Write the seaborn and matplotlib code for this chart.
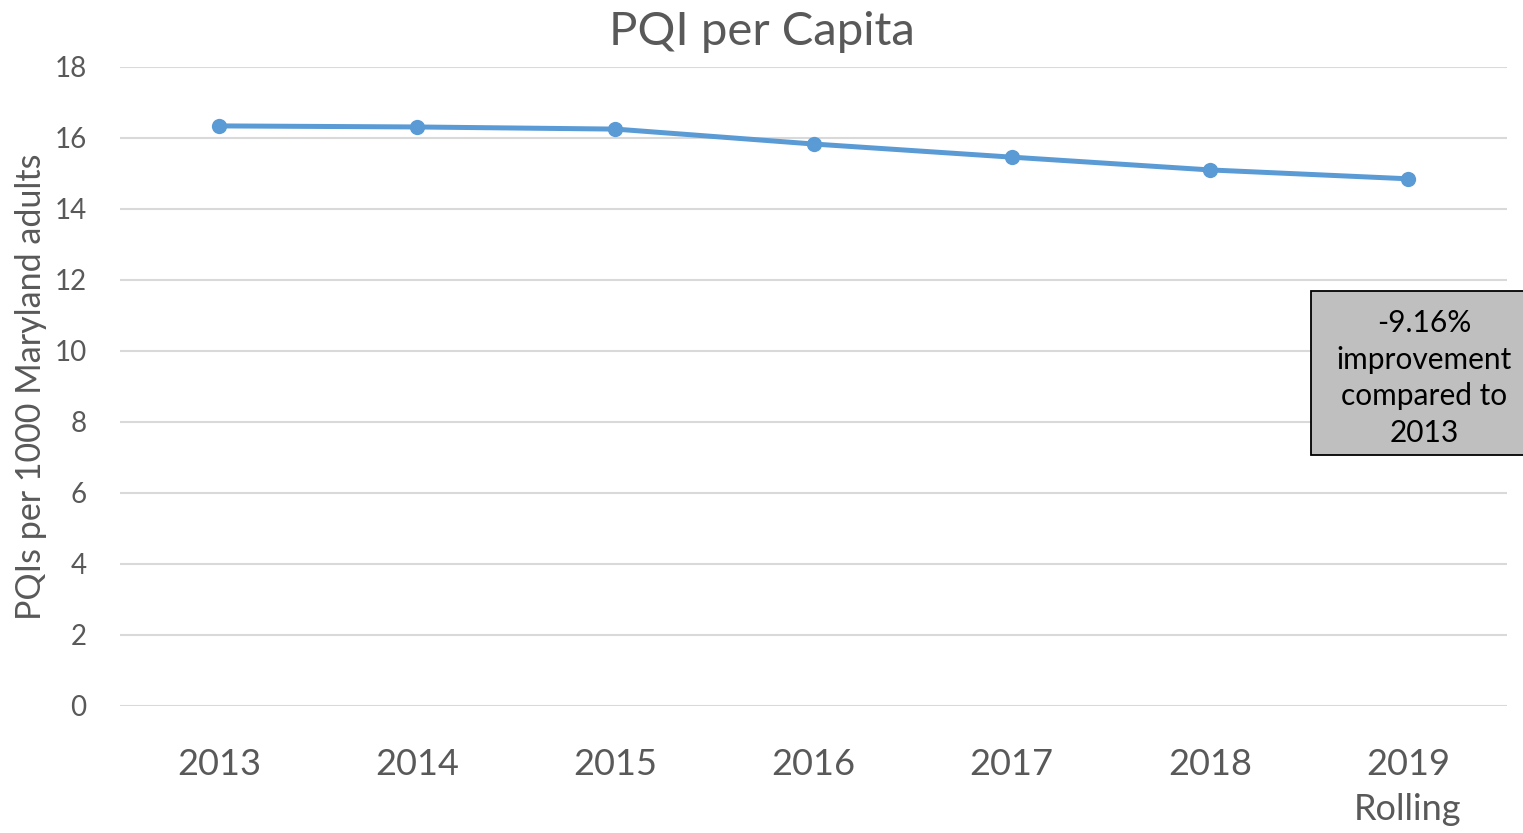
import pandas as pd
import matplotlib.pyplot as plt
import seaborn as sns
from matplotlib.patches import Rectangle

years = ["2013", "2014", "2015", "2016", "2017", "2018", "2019\nRolling"]
pqi = [16.34, 16.31, 16.25, 15.83, 15.46, 15.10, 14.85]
note = "-9.16%\nimprovement\ncompared to\n2013"

sns.set_theme(style="white")
plt.rcParams['font.family'] = ['Lato', 'DejaVu Sans']

df = pd.DataFrame({"year": years, "pqi": pqi})

fig = plt.figure(figsize=(15.23, 8.33), dpi=100)
ax = fig.add_axes([0.0788, 0.1525, 0.9107, 0.7671])

sns.lineplot(data=df, x="year", y="pqi", sort=False, ax=ax, color="#5B9BD5",
             linewidth=3.6, marker="o", markersize=11, markeredgewidth=0)

ax.set_ylim(0, 18)
ax.set_yticks(range(0, 19, 2))
ax.set_xlim(-0.5, len(years) - 0.5)
ax.yaxis.grid(True, color="#D9D9D9", linewidth=1.5)
ax.set_axisbelow(True)
for s in ax.spines.values():
    s.set_visible(False)

ax.tick_params(axis="y", labelsize=20, labelcolor="#595959", length=0, pad=24)
ax.tick_params(axis="x", labelsize=26, labelcolor="#595959", length=0, pad=30)
for lbl in ax.get_xticklabels():
    lbl.set_linespacing(1.45)
ax.set_xlabel("")
ax.set_ylabel("PQIs per 1000 Maryland adults", fontsize=24.5, color="#595959", labelpad=5)
fig.text(0.5, 1 - 32 / 833, "PQI per Capita", ha="center", va="center",
         fontsize=34, color="#595959")

# annotation box (runs off the right edge like the original)
fig.patches.append(Rectangle((1311 / 1523, 1 - 455 / 833), 240 / 1523, 164 / 833,
                             transform=fig.transFigure, facecolor="#BFBFBF",
                             edgecolor="black", linewidth=1.3, clip_on=False))
fig.text(1424 / 1523, 1 - 378 / 833, note, ha="center", va="center",
         fontsize=21.5, color="black", linespacing=1.39)

fig.savefig("out.png", dpi=100)
